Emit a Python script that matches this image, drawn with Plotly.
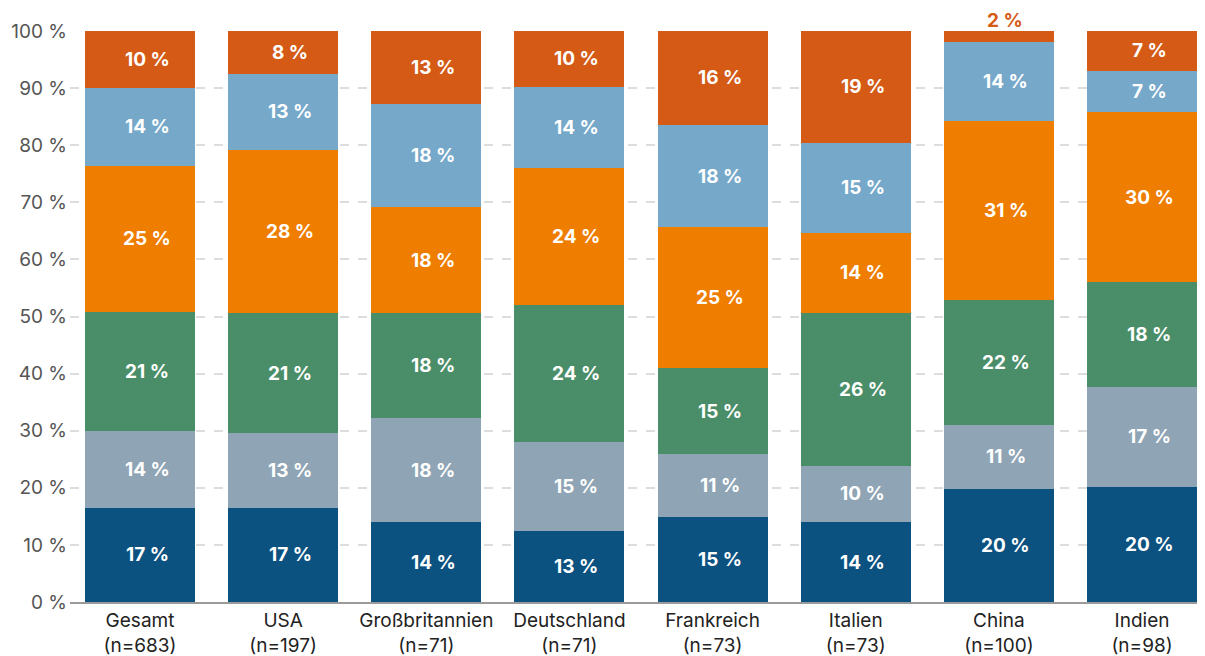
import plotly.graph_objects as go

categories = ["Gesamt<br>(n=683)", "USA<br>(n=197)", "Großbritannien<br>(n=71)",
              "Deutschland<br>(n=71)", "Frankreich<br>(n=73)", "Italien<br>(n=73)",
              "China<br>(n=100)", "Indien<br>(n=98)"]

# segment values (bottom to top)
s1 = [16.5, 16.5, 14.0, 12.5, 14.9, 14.0, 19.8, 20.1]
s2 = [13.4, 13.1, 18.2, 15.5, 11.0,  9.9, 11.2, 17.6]
s3 = [20.9, 21.0, 18.4, 24.1, 15.1, 26.7, 21.9, 18.3]
s4 = [25.6, 28.6, 18.5, 23.9, 24.6, 14.1, 31.3, 29.8]
s5 = [13.6, 13.3, 18.2, 14.2, 18.0, 15.7, 13.9,  7.2]
s6 = [10.0,  7.5, 12.7,  9.8, 16.4, 19.6,  1.9,  7.0]

# printed labels
l1 = [17, 17, 14, 13, 15, 14, 20, 20]
l2 = [14, 13, 18, 15, 11, 10, 11, 17]
l3 = [21, 21, 18, 24, 15, 26, 22, 18]
l4 = [25, 28, 18, 24, 25, 14, 31, 30]
l5 = [14, 13, 18, 14, 18, 15, 14, 7]
l6 = [10, 8, 13, 10, 16, 19, 2, 7]

colors = ["#0B5281", "#8FA4B4", "#4A8E69", "#EE7D00", "#76A8CA", "#D45A16"]
series = [s1, s2, s3, s4, s5, s6]
labels = [l1, l2, l3, l4, l5, l6]

FONT = "Inter"
fig = go.Figure()
for vals, col in zip(series, colors):
    fig.add_trace(go.Bar(x=categories, y=vals, marker=dict(color=col, line=dict(width=0)),
                         width=0.768, hoverinfo="skip", showlegend=False))

annotations = []
base = [0.0] * len(categories)
for si, (vals, labs) in enumerate(zip(series, labels)):
    for i, (v, lab) in enumerate(zip(vals, labs)):
        top = min(round(base[i] + v, 6), 100)
        if v < 4:
            annotations.append(dict(x=categories[i], y=top, yanchor="bottom", yshift=-3,
                                    xshift=6, text=f"{lab} %", showarrow=False,
                                    font=dict(family=FONT, size=19, color=colors[si], weight="bold")))
        else:
            annotations.append(dict(x=categories[i], y=base[i] + v / 2, xshift=7,
                                    text=f"{lab} %", showarrow=False,
                                    font=dict(family=FONT, size=19, color="white", weight="bold")))
        base[i] += v

# page body has an 8px margin, so the figure is sized to end at the window edge
fig.update_layout(
    barmode="stack",
    width=1197, height=648,
    margin=dict(l=62, r=0, t=23, b=54),
    paper_bgcolor="white", plot_bgcolor="white",
    annotations=annotations,
    font=dict(family=FONT),
)
fig.update_xaxes(type="category", range=[-0.489, 7.44], showline=True, linecolor="#9a9a9a",
                 linewidth=2, ticks="", showgrid=False, automargin=False,
                 tickfont=dict(family=FONT, size=19, color="#222222"))
fig.update_yaxes(range=[0, 100], dtick=10, ticksuffix=" %", showgrid=True, gridcolor="#dddddd",
                 griddash="dash", gridwidth=1.5, zeroline=False, ticks="", automargin=False,
                 ticklabelstandoff=2,
                 tickfont=dict(family=FONT, size=19, color="#555555"))

fig.write_html("out.html")
